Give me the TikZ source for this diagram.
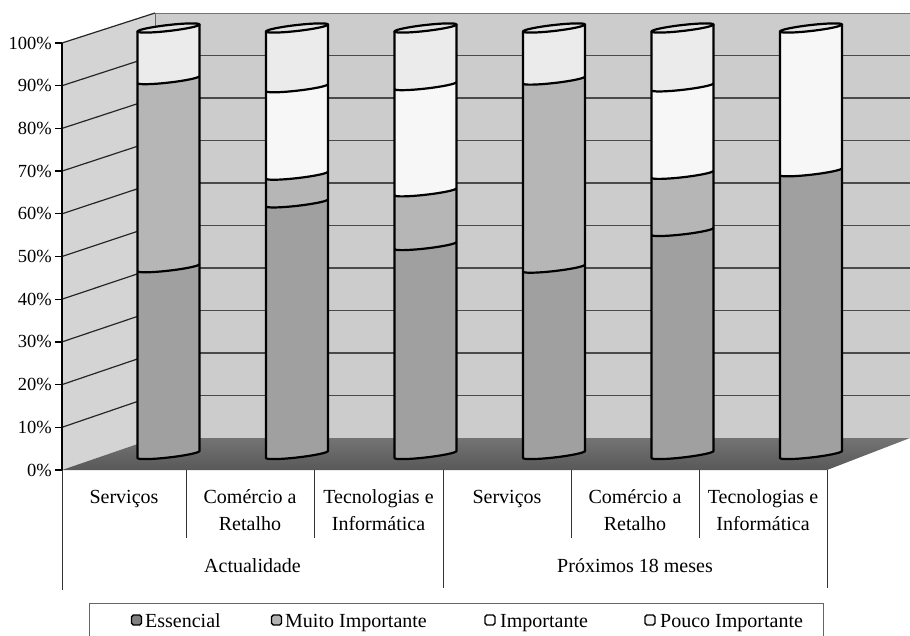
\documentclass[tikz,border=0pt]{standalone}
\usepackage{fontspec}
\setmainfont{Liberation Serif}

% series colours of the stacked cylinders
\definecolor{cEss}{HTML}{A0A0A0}
\definecolor{cMuito}{HTML}{B6B6B6}
\definecolor{cImp}{HTML}{F7F7F7}
\definecolor{cPouco}{HTML}{EBEBEB}
\definecolor{cTop}{HTML}{E1E1E1}
% legend swatches
\definecolor{kEss}{HTML}{808080}
\definecolor{kMuito}{HTML}{B3B3B3}
\definecolor{kImp}{HTML}{FFFFFF}
\definecolor{kPouco}{HTML}{F4F4F4}
% walls and floor
\definecolor{wallBack}{HTML}{CCCCCC}
\definecolor{wallLeft}{HTML}{D4D4D4}
\definecolor{floorTop}{HTML}{747474}
\definecolor{floorBot}{HTML}{585858}
\definecolor{gridBack}{HTML}{4A4A4A}

% cylinder geometry (1 unit = 1pt, y grows downwards)
\def\crad{31}
\def\cry{3}
\def\cslant{0.113}
\newcommand\yof[1]{(454.5-4.265*(#1))}

% one coloured band of a cylinder: centre x, from %, to %, colour
\newcommand\cylseg[4]{%
  \fill[#4, shift={(#1,0)}, yslant=\cslant]
    (-\crad,{\yof{#2}}) arc[start angle=180,end angle=0,x radius=\crad,y radius=\cry]
    -- (\crad,{\yof{#3}}) arc[start angle=0,end angle=180,x radius=\crad,y radius=\cry] -- cycle;}
% front edge between two bands
\newcommand\cylline[2]{%
  \draw[cyledge, shift={(#1,0)}, yslant=\cslant]
    (-\crad,{\yof{#2}}) arc[start angle=180,end angle=0,x radius=\crad,y radius=\cry];}
% contour and top face of a cylinder
\newcommand\cylout[1]{%
  \draw[cyledge, shift={(#1,0)}, yslant=\cslant]
    (-\crad,{\yof{100}}) -- (-\crad,{\yof{0}})
    arc[start angle=180,end angle=0,x radius=\crad,y radius=\cry] -- (\crad,{\yof{100}});
  \filldraw[cyledge, fill=cTop, shift={(#1,0)}, yslant=\cslant]
    (0,{\yof{100}}) ellipse[x radius=\crad, y radius=\cry];}

\begin{document}
\begin{tikzpicture}[x=1pt, y=-1pt,
  cyledge/.style={draw=black, line width=2.2pt, line join=round},
  axisline/.style={draw=black, line width=1.2pt},
  leftgrid/.style={draw=black!85, line width=1.2pt},
  backgrid/.style={draw=gridBack, line width=1.1pt},
  tableline/.style={draw=black!80, line width=0.9pt},
  ticklabel/.style={anchor=east, inner sep=0pt, font=\fontsize{18.5}{22}\selectfont},
  catlabel/.style={anchor=north, inner sep=0pt, align=center, font=\fontsize{20}{27}\selectfont},
  grouplabel/.style={anchor=base, inner sep=0pt, font=\fontsize{20}{24}\selectfont},
  keytext/.style={anchor=base west, inner sep=0pt, font=\fontsize{20}{24}\selectfont},
  swatch/.style={draw=black, line width=1.4pt, rounded corners=1.8pt, minimum size=10pt, inner sep=0pt}]

\useasboundingbox (0,0) rectangle (910,636);
\fill[white] (0,0) rectangle (910,636);

% walls
\fill[wallBack] (155,13) rectangle (910,438);
\fill[wallLeft] (62,43) -- (155,13) -- (155,438) -- (62,470) -- cycle;

% gridlines on both walls
\foreach \k in {1,...,9} {
  \draw[backgrid] (155,{438-42.5*\k}) -- (910,{438-42.5*\k});
  \draw[leftgrid] (62,{470-42.7*\k}) -- (155,{438-42.5*\k});
}
\draw[draw=black!55, line width=0.9pt] (155,13) -- (910,13);
\draw[leftgrid] (62,43) -- (155,13);
\draw[draw=black!60, line width=0.9pt] (155,13) -- (155,438);

% floor
\shade[top color=floorTop, bottom color=floorBot]
  (62,470) -- (827,470) -- (910,438) -- (155,438) -- cycle;

% cylinders: Actualidade
\cylseg{168.5}{0}{43.8}{cEss}
\cylseg{168.5}{43.8}{87.9}{cMuito}
\cylseg{168.5}{87.9}{100}{cPouco}
\cylline{168.5}{43.8}
\cylline{168.5}{87.9}
\cylout{168.5}

\cylseg{297}{0}{59}{cEss}
\cylseg{297}{59}{65.5}{cMuito}
\cylseg{297}{65.5}{86}{cImp}
\cylseg{297}{86}{100}{cPouco}
\cylline{297}{59}
\cylline{297}{65.5}
\cylline{297}{86}
\cylout{297}

\cylseg{425.5}{0}{49}{cEss}
\cylseg{425.5}{49}{61.6}{cMuito}
\cylseg{425.5}{61.6}{86.5}{cImp}
\cylseg{425.5}{86.5}{100}{cPouco}
\cylline{425.5}{49}
\cylline{425.5}{61.6}
\cylline{425.5}{86.5}
\cylout{425.5}

% cylinders: Proximos 18 meses
\cylseg{554}{0}{43.7}{cEss}
\cylseg{554}{43.7}{87.8}{cMuito}
\cylseg{554}{87.8}{100}{cPouco}
\cylline{554}{43.7}
\cylline{554}{87.8}
\cylout{554}

\cylseg{682.5}{0}{52.3}{cEss}
\cylseg{682.5}{52.3}{65.7}{cMuito}
\cylseg{682.5}{65.7}{86.2}{cImp}
\cylseg{682.5}{86.2}{100}{cPouco}
\cylline{682.5}{52.3}
\cylline{682.5}{65.7}
\cylline{682.5}{86.2}
\cylout{682.5}

\cylseg{811}{0}{66.3}{cEss}
\cylseg{811}{66.3}{100}{cImp}
\cylline{811}{66.3}
\cylout{811}

% value axis
\draw[axisline] (62,43) -- (62,470);
\foreach \k in {0,...,10} {
  \draw[axisline] (55,{470-42.7*\k}) -- (62,{470-42.7*\k});
  \node[ticklabel] (t\k) at (52,{470-42.7*\k}) {\the\numexpr\k*10\relax\%};
}

% category table
\foreach \x/\b in {62/590, 186/538, 314/538, 443/588, 571/538, 699/538, 827/588}
  \draw[tableline] (\x,470) -- (\x,\b);

\node[catlabel] (c1) at (124,484)   {\strut Serviços};
\node[catlabel] (c2) at (250,484)   {\strut Comércio a\\Retalho};
\node[catlabel] (c3) at (378.5,484) {\strut Tecnologias e\\Informática};
\node[catlabel] (c4) at (507,484)   {\strut Serviços};
\node[catlabel] (c5) at (635,484)   {\strut Comércio a\\Retalho};
\node[catlabel] (c6) at (763,484)   {\strut Tecnologias e\\Informática};
\node[grouplabel] (g1) at (252.5,572) {Actualidade};
\node[grouplabel] (g2) at (635,572)   {Próximos 18 meses};

% legend
\draw[draw=black!60, line width=0.8pt] (89,640) -- (89,603) -- (823,603) -- (823,640);
\node[swatch, fill=kEss]   (s1) at (136.5,620) {};
\node[keytext] (l1) at (145,627) {Essencial};
\node[swatch, fill=kMuito] (s2) at (276.5,620) {};
\node[keytext] (l2) at (285,627) {Muito Importante};
\node[swatch, fill=kImp]   (s3) at (490,620) {};
\node[keytext] (l3) at (500,627) {Importante};
\node[swatch, fill=kPouco] (s4) at (650,620) {};
\node[keytext] (l4) at (660,627) {Pouco Importante};
\end{tikzpicture}
\end{document}
